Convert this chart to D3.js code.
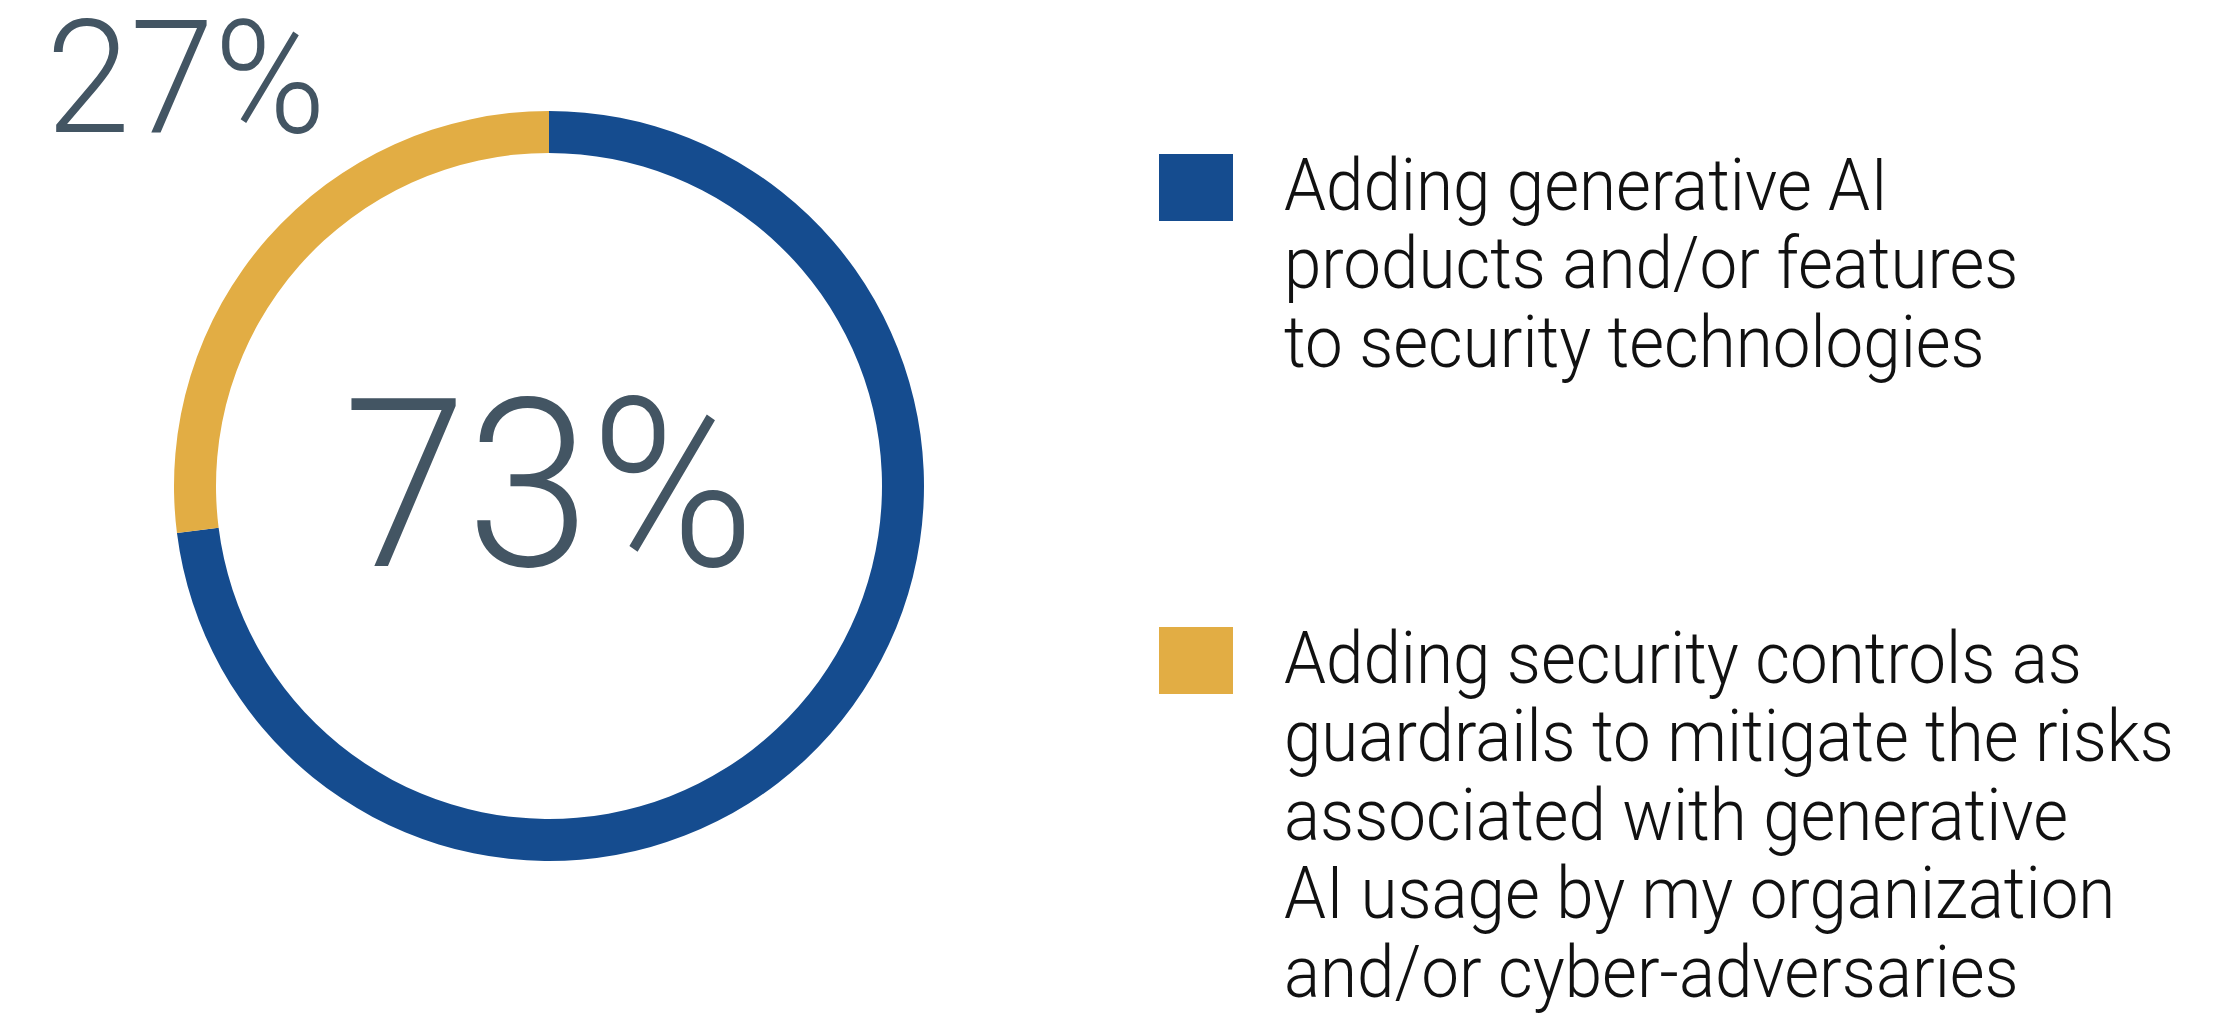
<!DOCTYPE html>
<html>
<head>
<meta charset="utf-8">
<script src="https://cdn.jsdelivr.net/npm/d3@7"></script>
<style>
  html, body { margin: 0; padding: 0; background: #fff; }
  svg { display: block; }
  text { font-family: Roboto, "Noto Sans", sans-serif; }
</style>
</head>
<body>
<div id="chart-wrap"></div>
<script>
// data
var categories = ["generative AI in security tech", "security controls as guardrails"];
var values = [73, 27];
var colors = ["#154c8f", "#e2ad44"];
var legendLines = [
  ["Adding generative AI", "products and/or features", "to security technologies"],
  ["Adding security controls as", "guardrails to mitigate the risks", "associated with generative",
   "AI usage by my organization", "and/or cyber-adversaries"]
];

var width = 2229, height = 1014;
var cx = 549, cy = 486, outerR = 375, innerR = 333;
var numColor = "#435563";

var svg = d3.select("#chart-wrap")
  .append("svg")
  .attr("width", width)
  .attr("height", height);

var pie = d3.pie().sort(null).value(function(d) { return d; });
var arc = d3.arc().innerRadius(innerR).outerRadius(outerR);

var donut = svg.append("g")
  .attr("transform", "translate(" + cx + "," + cy + ")");

donut.selectAll("path")
  .data(pie(values))
  .enter()
  .append("path")
  .attr("d", arc)
  .attr("fill", function(d, i) { return colors[i]; });

// big value in the middle
donut.append("text")
  .attr("x", 0)
  .attr("y", 80)
  .attr("text-anchor", "middle")
  .attr("font-size", 236)
  .attr("font-weight", 300)
  .attr("fill", numColor)
  .attr("textLength", 412)
  .attr("lengthAdjust", "spacingAndGlyphs")
  .text(values[0] + "%");

// small value top-left
svg.append("text")
  .attr("x", 46)
  .attr("y", 132)
  .attr("font-size", 158)
  .attr("font-weight", 300)
  .attr("fill", numColor)
  .attr("textLength", 280)
  .attr("lengthAdjust", "spacingAndGlyphs")
  .text(values[1] + "%");

// legend
var legendTop = [154, 627];
var lineH = 78.5;
var sx = 0.935;

var legend = svg.selectAll("g.legend")
  .data(categories)
  .enter()
  .append("g")
  .attr("class", "legend");

legend.append("rect")
  .attr("x", 1159)
  .attr("y", function(d, i) { return legendTop[i]; })
  .attr("width", 74)
  .attr("height", 67)
  .attr("fill", function(d, i) { return colors[i]; });

legend.each(function(d, i) {
  var g = d3.select(this).append("g")
    .attr("transform", "translate(1284," + (legendTop[i] + 56) + ") scale(" + sx + ",1)");
  g.selectAll("text")
    .data(legendLines[i])
    .enter()
    .append("text")
    .attr("x", 0)
    .attr("y", function(t, j) { return j * lineH; })
    .attr("font-size", 72)
    .attr("font-weight", 300)
    .attr("fill", "#111")
    .text(function(t) { return t; });
});
</script>
</body>
</html>
